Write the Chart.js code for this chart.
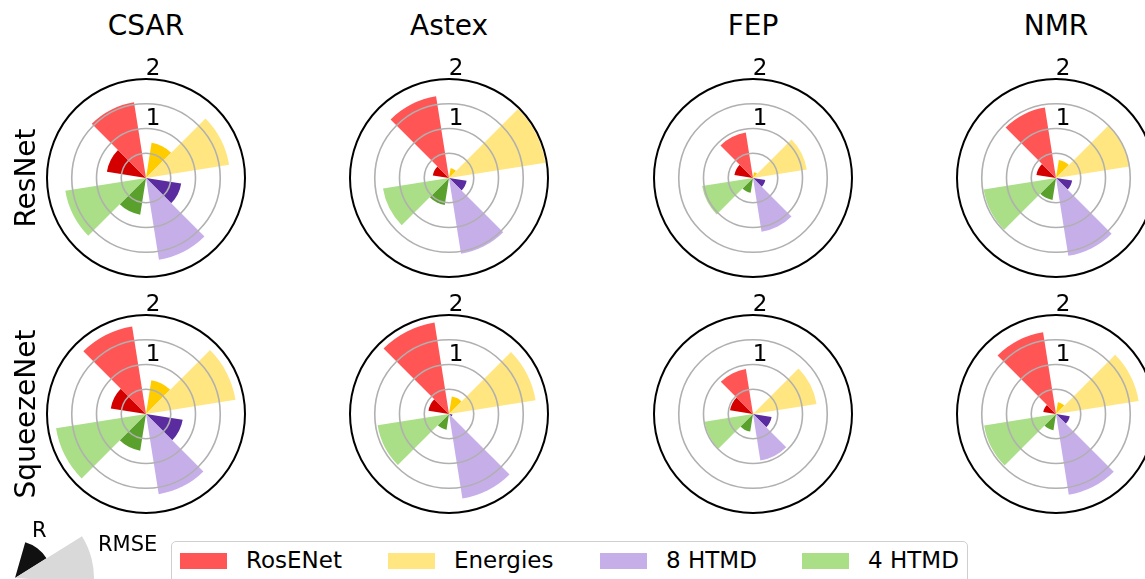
<!DOCTYPE html>
<html>
<head>
<meta charset="utf-8">
<script src="https://cdn.jsdelivr.net/npm/chart.js@4"></script>
<style>
  body { margin: 0; width: 1145px; height: 579px; overflow: hidden; background: #fff; position: relative; font-family: 'DejaVu Sans', sans-serif; }
  canvas { position: absolute; }
  .title { position: absolute; top: 12px; font-size: 28px; line-height: 1; transform: translateX(-50%); white-space: nowrap; }
  .rowlab { position: absolute; left: 26px; font-size: 28px; line-height: 1; transform: translate(-50%, -50%) rotate(-90deg); white-space: nowrap; }
  .legend { position: absolute; left: 171px; top: 541px; width: 795px; height: 60px; border: 1px solid #cfcfcf; border-radius: 5px; background: #fff; }
  .patch { position: absolute; top: 11px; width: 47px; height: 16px; }
  .ltext { position: absolute; top: 7px; font-size: 23px; line-height: 1; white-space: nowrap; }
  .key { position: absolute; font-size: 21px; line-height: 1; }
</style>
</head>
<body>
<script>
// datasets (columns) and networks (rows)
const sets = ['CSAR', 'Astex', 'FEP', 'NMR'];
const nets = ['ResNet', 'SqueezeNet'];
const methods = ['RosENet', 'Energies', '8 HTMD', '4 HTMD'];

// values per dataset, in the order of methods
const resnetRMSE = [
  [1.55, 1.70, 1.67, 1.65],
  [1.67, 1.97, 1.55, 1.35],
  [0.93, 1.10, 1.10, 1.04],
  [1.44, 1.50, 1.59, 1.48]
];
const resnetR = [
  [0.80, 0.72, 0.72, 0.75],
  [0.33, 0.20, 0.36, 0.55],
  [0.38, 0.12, 0.25, 0.30],
  [0.40, 0.37, 0.33, 0.45]
];
const squeezeRMSE = [
  [1.79, 1.83, 1.64, 1.84],
  [1.87, 1.77, 1.73, 1.46],
  [0.92, 1.30, 0.95, 0.99],
  [1.67, 1.69, 1.65, 1.47]
];
const squeezeR = [
  [0.72, 0.69, 0.75, 0.75],
  [0.42, 0.36, 0.07, 0.32],
  [0.47, 0.03, 0.38, 0.36],
  [0.26, 0.24, 0.28, 0.33]
];

const ringValues = [0.5, 1, 1.5, 2];
const tickLabels = [1, 2];

// key in the bottom-left corner
const keyLabels = ['R', 'RMSE'];
const keyValues = [0.47, 1];

const lightColors = ['#ff5555', '#ffe680', '#c6afe9', '#aade87'];
const darkColors = ['#d40000', '#ffcc00', '#5a2ca0', '#5aa02c'];

// slice widths in degrees, clockwise from north
const sliceAngles = [9, 36, 36, 18, 36, 36, 18, 36, 36, 18, 36, 36, 9];
// method index of each slice (-1 = gap)
const sliceMethod = [-1, 1, 1, -1, 2, 2, -1, 3, 3, -1, 0, 0, -1];
const sliceIsRmse = [false, false, true, false, false, true, false, false, true, false, false, true, false];

const colX = [146, 449, 753, 1056];
const rowY = [178, 414];
const SIZE = 260, PAD = 31;

function sliceValues(rmse, r) {
  return sliceMethod.map((m, i) => m < 0 ? 0 : (sliceIsRmse[i] ? rmse[m] : r[m]));
}
function sliceColors() {
  return sliceMethod.map((m, i) => m < 0 ? 'rgba(0,0,0,0)' : (sliceIsRmse[i] ? lightColors[m] : darkColors[m]));
}

const ringPlugin = {
  id: 'rings',
  afterDatasetsDraw(chart) {
    const s = chart.scales.r;
    const ctx = chart.ctx;
    ctx.save();
    ringValues.forEach(v => {
      ctx.beginPath();
      ctx.arc(s.xCenter, s.yCenter, s.getDistanceFromCenterForValue(v), 0, Math.PI * 2);
      ctx.strokeStyle = v === s.max ? '#000000' : '#b0b0b0';
      ctx.lineWidth = v === s.max ? 2 : 1.6;
      ctx.stroke();
    });
    ctx.fillStyle = '#000';
    ctx.font = '23px "DejaVu Sans"';
    ctx.textAlign = 'center';
    ctx.textBaseline = 'alphabetic';
    tickLabels.forEach(v => {
      ctx.fillText(String(v), s.xCenter + 7, s.yCenter - s.getDistanceFromCenterForValue(v) - 4);
    });
    ctx.restore();
  }
};

function addDiv(cls, text, css) {
  const d = document.createElement('div');
  d.className = cls;
  d.textContent = text;
  Object.assign(d.style, css);
  document.body.appendChild(d);
  return d;
}

nets.forEach((net, row) => {
  const rmseRows = row === 0 ? resnetRMSE : squeezeRMSE;
  const rRows = row === 0 ? resnetR : squeezeR;
  sets.forEach((name, col) => {
    const cv = document.createElement('canvas');
    cv.width = SIZE; cv.height = SIZE;
    cv.style.left = (colX[col] - SIZE / 2) + 'px';
    cv.style.top = (rowY[row] - SIZE / 2) + 'px';
    cv.style.width = SIZE + 'px'; cv.style.height = SIZE + 'px';
    document.body.appendChild(cv);
    new Chart(cv.getContext('2d'), {
      type: 'polarArea',
      data: {
        labels: sliceMethod.map((m, i) => m < 0 ? '' : methods[m] + (sliceIsRmse[i] ? ' RMSE' : ' R')),
        datasets: [{
          label: name + ' ' + net,
          data: sliceValues(rmseRows[col], rRows[col]),
          backgroundColor: sliceColors(),
          borderWidth: 0,
          angle: ctx => sliceAngles[ctx.dataIndex]
        }]
      },
      options: {
        responsive: false,
        animation: false,
        layout: { padding: PAD },
        plugins: { legend: { display: false }, tooltip: { enabled: false } },
        scales: {
          r: {
            min: 0, max: 2, startAngle: 0,
            ticks: { display: false, stepSize: 0.5 },
            grid: { display: false },
            angleLines: { display: false },
            pointLabels: { display: false }
          }
        }
      },
      plugins: [ringPlugin]
    });
  });
});

sets.forEach((name, col) => addDiv('title', name, { left: colX[col] + 'px' }));
nets.forEach((net, row) => addDiv('rowlab', net, { top: rowY[row] + 'px' }));

// key chart
const KEY = 158;
const kc = document.createElement('canvas');
kc.width = KEY; kc.height = KEY;
kc.style.left = (15 - KEY / 2) + 'px';
kc.style.top = (578 - KEY / 2) + 'px';
kc.style.width = KEY + 'px'; kc.style.height = KEY + 'px';
document.body.appendChild(kc);
const keyAngles = [42, 36, 282];
new Chart(kc.getContext('2d'), {
  type: 'polarArea',
  data: {
    labels: keyLabels.concat(['']),
    datasets: [{
      data: keyValues.concat([0]),
      backgroundColor: ['#111111', '#d9d9d9', 'rgba(0,0,0,0)'],
      borderWidth: 0,
      angle: ctx => keyAngles[ctx.dataIndex]
    }]
  },
  options: {
    responsive: false,
    animation: false,
    plugins: { legend: { display: false }, tooltip: { enabled: false } },
    scales: {
      r: {
        min: 0, max: 1, startAngle: 16,
        ticks: { display: false },
        grid: { display: false },
        angleLines: { display: false },
        pointLabels: { display: false }
      }
    }
  }
});
addDiv('key', keyLabels[0], { left: '32px', top: '520px' });
addDiv('key', keyLabels[1], { left: '98px', top: '534px' });

// legend
const legend = document.createElement('div');
legend.className = 'legend';
document.body.appendChild(legend);
const patchX = [8, 216, 428, 630];
methods.forEach((m, i) => {
  const p = document.createElement('div');
  p.className = 'patch';
  p.style.left = patchX[i] + 'px';
  p.style.background = lightColors[i];
  legend.appendChild(p);
  const t = document.createElement('div');
  t.className = 'ltext';
  t.style.left = (patchX[i] + 66) + 'px';
  t.textContent = m;
  legend.appendChild(t);
});
</script>
</body>
</html>
